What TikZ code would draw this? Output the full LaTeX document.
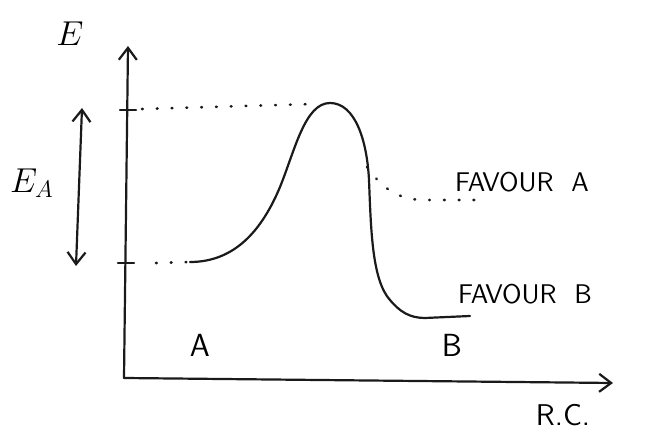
\documentclass[tikz,border=0pt]{standalone}
\usepackage{amsmath}
\usepackage{xcolor}
\usepackage{tikz}
\usetikzlibrary{calc, arrows.meta}
\definecolor{penColor}{HTML}{1A1A1A}

\begin{document}
\begin{tikzpicture}[x=0.5pt, y=-0.5pt, >={Straight Barb[length=6pt, width=9pt]},
    pen/.style={penColor, line width=1.1pt, line cap=round},
    dots/.style={penColor, line width=1.3pt, line cap=round, dash pattern=on 0.4pt off 7pt},
    lbl/.style={font=\sffamily\fontsize{13.5}{15}\selectfont, inner sep=0pt}]
    \useasboundingbox (0,0) rectangle (645,433);
    % axes
    \coordinate (origin) at (124,378);
    \coordinate (ytop) at (128,46);
    \coordinate (xend) at (613,383);
    \draw[pen,->] (origin) -- (ytop);
    \draw[pen,->] (origin) -- (xend);
    \node[font=\fontsize{18}{20}\selectfont] (elabel) at (70,34) {\(E\)};
    \node[lbl, font=\sffamily\fontsize{15}{17}\selectfont] (rclabel) at (563,415) {R.C.};
    % level ticks
    \coordinate (ttop) at (128,110);
    \coordinate (tbot) at (126,263);
    \draw[pen] ($(ttop)+(-8,0)$) -- ($(ttop)+(8,0)$);
    \draw[pen] ($(tbot)+(-8,0)$) -- ($(tbot)+(8,0)$);
    % dotted levels
    \draw[dots] (142,109) -- (312,104);
    \draw[dots] (156,263) -- (188,262);
    % activation energy
    \coordinate (eatop) at (82,108);
    \coordinate (eabot) at (76,266);
    \draw[pen,<->] (eatop) -- (eabot);
    \node[font=\fontsize{18}{20}\selectfont, inner sep=1pt] (ealabel) at (32,183) {\(E_{A}\)};
    % reaction curve
    \draw[pen] (190,262) .. controls (235,262) and (262,230) .. (280,187)
        .. controls (295,150) and (305,103) .. (330,103)
        .. controls (355,103) and (367,140) .. (369,180)
        .. controls (371,230) and (372,280) .. (390,300)
        .. controls (400,312) and (410,318) .. (425,318) -- (470,316);
    % other branch
    \draw[dots] (367,167) .. controls (380,185) and (395,200) .. (425,200) -- (480,200);
    \node[lbl] (favA) at (522,182) {FAVOUR\ \ A};
    \node[lbl] (favB) at (525,294) {FAVOUR\ \ B};
    \node[lbl, font=\sffamily\fontsize{16}{18}\selectfont] (alabel) at (200,345) {A};
    \node[lbl, font=\sffamily\fontsize{16}{18}\selectfont] (blabel) at (452,345) {B};
\end{tikzpicture}
\end{document}
